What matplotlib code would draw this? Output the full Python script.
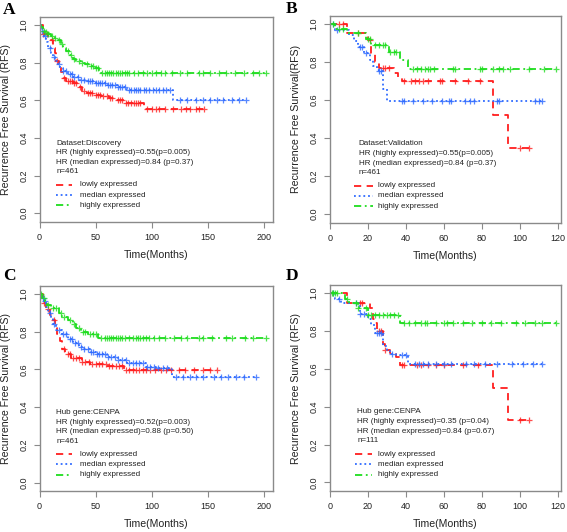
import numpy as np
import matplotlib
matplotlib.use('Agg')
import matplotlib.pyplot as plt

plt.rcParams['font.family'] = ['Liberation Sans', 'DejaVu Sans']

# ---------------- panel A (Discovery) ----------------
a_low_t = [3, 8, 12, 14, 15, 17, 19, 21, 24, 30, 35, 38, 42, 48, 55, 62, 68, 75, 93]
a_low_s = [0.95, 0.92, 0.88, 0.85, 0.81, 0.78, 0.75, 0.72, 0.70, 0.69, 0.67, 0.65, 0.64, 0.63, 0.62, 0.61, 0.60, 0.585, 0.553]
a_low_c = [3, 7, 11, 16, 22, 25, 27, 29, 31, 33, 36, 40, 43, 45, 47, 50, 52, 54, 57, 60, 63, 65, 70, 72, 74,
           77, 79, 82, 84, 86, 88, 90, 96, 100, 104, 107, 112, 119, 126, 131, 134, 140, 142, 147]
a_med_t = [2, 4, 6, 8, 10, 12, 14, 16, 18, 21, 25, 30, 35, 42, 50, 60, 70, 78, 119]
a_med_s = [0.97, 0.94, 0.91, 0.88, 0.85, 0.83, 0.81, 0.79, 0.77, 0.755, 0.74, 0.725, 0.71, 0.70, 0.69, 0.68, 0.67, 0.657, 0.60]
a_med_c = [2, 5, 9, 13, 17, 21, 24, 27, 29, 31, 34, 37, 40, 43, 45, 47, 50, 52, 54, 56, 58, 61, 63, 65, 67, 70,
           72, 74, 76, 80, 82, 84, 86, 88, 90, 93, 95, 98, 101, 104, 107, 110, 113, 116, 125, 132, 140, 146,
           152, 158, 164, 172, 178, 184]
a_hi_t = [1, 3, 5, 7, 10, 13, 16, 19, 21, 24, 27, 30, 33, 37, 41, 45, 49, 53]
a_hi_s = [0.99, 0.97, 0.96, 0.95, 0.94, 0.93, 0.92, 0.90, 0.88, 0.86, 0.84, 0.82, 0.81, 0.80, 0.79, 0.78, 0.77, 0.742]
a_hi_c = [4, 6, 8, 11, 14, 17, 20, 25, 28, 31, 35, 38, 42, 46, 48, 50, 52, 56, 58, 60, 62, 64, 66, 68, 70, 72,
          74, 76, 78, 80, 84, 88, 92, 96, 100, 104, 108, 112, 118, 125, 132, 142, 146, 152, 160, 166, 174,
          182, 190, 196, 202]

# ---------------- panel B (Validation) ----------------
b_low_t = [9, 20, 22, 24, 26, 34, 36, 38, 86, 94]
b_low_s = [0.95, 0.915, 0.85, 0.80, 0.77, 0.74, 0.72, 0.70, 0.52, 0.35]
b_low_c = [5, 7, 15, 21, 28, 29, 31, 39, 43, 45, 47, 49, 52, 58, 59, 66, 73, 79, 100, 105]
b_med_t = [3, 10, 13, 15, 18, 21, 23, 25, 26, 28, 30]
b_med_s = [0.97, 0.94, 0.91, 0.88, 0.85, 0.81, 0.78, 0.76, 0.755, 0.66, 0.595]
b_med_c = [2, 4, 16, 17, 19, 26, 27, 38, 39, 44, 49, 54, 59, 63, 64, 71, 74, 76, 88, 89, 108, 110, 112]
b_hi_t = [3, 9, 19, 22, 31, 37, 41]
b_hi_s = [0.975, 0.95, 0.92, 0.89, 0.855, 0.81, 0.765]
b_hi_c = [2, 5, 7, 15, 20, 21, 24, 26, 28, 29, 32, 34, 35, 44, 46, 48, 50, 52, 53, 55, 65, 66, 79, 80,
          86, 89, 91, 95, 105, 113, 119]

# ---------------- panel C (Hub gene, discovery) ----------------
c_low_t = [3, 6, 9, 12, 14, 16, 18, 20, 23, 28, 38, 45, 60, 75]
c_low_s = [0.95, 0.92, 0.89, 0.86, 0.82, 0.79, 0.75, 0.71, 0.68, 0.66, 0.64, 0.63, 0.62, 0.595]
c_low_c = [4, 8, 13, 22, 25, 27, 30, 33, 35, 38, 41, 44, 47, 50, 53, 56, 59, 62, 65, 68, 71, 74, 77, 80,
           83, 86, 89, 92, 95, 99, 103, 108, 113, 117, 124, 130, 138, 146, 152, 158]
c_med_t = [2, 4, 6, 8, 10, 12, 15, 20, 25, 30, 35, 40, 45, 50, 60, 70, 78, 95, 105, 118]
c_med_s = [0.98, 0.96, 0.93, 0.90, 0.87, 0.84, 0.81, 0.79, 0.76, 0.74, 0.72, 0.71, 0.69, 0.68, 0.665,
           0.65, 0.635, 0.615, 0.605, 0.56]
c_med_c = [3, 5, 9, 13, 17, 21, 24, 27, 29, 32, 34, 37, 40, 43, 46, 48, 51, 53, 56, 58, 61, 64, 67, 70,
           74, 77, 80, 83, 86, 89, 92, 96, 99, 102, 106, 110, 114, 122, 128, 134, 140, 146, 156, 162, 168,
           175, 182, 193]
c_hi_t = [2, 5, 7, 10, 17, 20, 25, 30, 33, 37, 43, 52]
c_hi_s = [0.98, 0.96, 0.94, 0.925, 0.90, 0.88, 0.86, 0.84, 0.82, 0.80, 0.79, 0.765]
c_hi_c = [1, 4, 8, 12, 15, 19, 22, 27, 31, 35, 39, 41, 45, 48, 50, 55, 58, 60, 62, 64, 66, 68, 70, 72, 74,
          76, 80, 83, 86, 88, 90, 92, 95, 98, 102, 107, 112, 120, 126, 132, 142, 146, 154, 166, 172, 183,
          190, 202]

# ---------------- panel D (Hub gene, validation) ----------------
d_low_t = [9, 21, 23, 24, 25, 28, 29, 32, 35, 37, 86, 94]
d_low_s = [0.945, 0.92, 0.86, 0.84, 0.80, 0.73, 0.70, 0.684, 0.66, 0.62, 0.50, 0.33]
d_low_c = [16, 17, 26, 27, 29, 38, 39, 46, 48, 52, 56, 60, 70, 78, 100, 105]
d_med_t = [3, 6, 16, 20, 22, 24, 28, 30, 32, 35, 41]
d_med_s = [0.97, 0.945, 0.89, 0.86, 0.83, 0.79, 0.72, 0.70, 0.68, 0.672, 0.627]
d_med_c = [2, 5, 14, 16, 18, 25, 26, 27, 33, 38, 40, 45, 47, 49, 52, 56, 60, 64, 72, 76, 82, 88, 96, 102,
           107, 112]
d_hi_t = [8, 10, 15, 20, 37]
d_hi_s = [0.97, 0.945, 0.92, 0.886, 0.84]
d_hi_c = [1, 2, 3, 4, 9, 14, 15, 19, 20, 22, 24, 26, 28, 30, 32, 34, 36, 39, 42, 45, 48, 50, 51, 56, 60,
          62, 65, 70, 75, 80, 85, 90, 98, 103, 108, 112, 119]

series_labels = ['lowly expressed', 'median expressed', 'highly expressed']

a_text = ['Dataset:Discovery', 'HR (highly expressed)=0.55(p=0.005)',
          'HR (median expressed)=0.84 (p=0.37)', 'n=461']
b_text = ['Dataset:Validation', 'HR (highly expressed)=0.55(p=0.005)',
          'HR (median expressed)=0.84 (p=0.37)', 'n=461']
c_text = ['Hub gene:CENPA', 'HR (highly expressed)=0.52(p=0.003)',
          'HR (median expressed)=0.88 (p=0.50)', 'n=461']
d_text = ['Hub gene:CENPA', 'HR (highly expressed)=0.35 (p=0.04)',
          'HR (median expressed)=0.84 (p=0.67)', 'n=111']

colors = ['#ff1f1f', '#2f6bff', '#1fdd1f']
dashes = [(4, 3), (1, 1.6), (4, 2, 1, 2)]

W, H = 567, 532
fig = plt.figure(figsize=(W / 100, H / 100), dpi=100)


def add_ax(l, t, r, b):
    return fig.add_axes([l / W, 1 - b / H, (r - l) / W, (b - t) / H])


def km_panel(ax, curves, xmax, xticks, text, ylabel, tx, lx):
    for (times, surv, cens), col, ds in zip(curves, colors, dashes):
        t = np.array([0] + times, dtype=float)
        s = np.array([1.0] + surv)
        tend = max(max(cens), t[-1])
        ax.step(np.append(t, tend), np.append(s, s[-1]), where='post',
                color=col, lw=1.3, dashes=ds)
        c = np.array(cens, dtype=float)
        cy = s[np.searchsorted(t, c, side='right') - 1]
        ax.plot(c, cy, '+', color=col, ms=5, mew=0.9, alpha=0.8)
    ax.set_xlim(0, xmax)
    ax.set_ylim(-0.045, 1.042)
    ax.set_xticks(xticks)
    ax.set_yticks([0, 0.2, 0.4, 0.6, 0.8, 1.0])
    ax.set_yticklabels(['0.0', '0.2', '0.4', '0.6', '0.8', '1.0'], rotation=90, va='center')
    for sp in ax.spines.values():
        sp.set_color('#8a8a8a')
        sp.set_linewidth(1.0)
    ax.tick_params(colors='#8a8a8a', labelcolor='#222222', labelsize=6.5, length=4, width=0.8, pad=4)
    ax.set_xlabel('Time(Months)', fontsize=7.6, color='#222222', labelpad=6)
    ax.set_ylabel(ylabel, fontsize=7.6, color='#222222', labelpad=6)
    ty = [0.372, 0.32, 0.268, 0.22]
    for line, y in zip(text, ty):
        ax.text(tx, y, line, fontsize=5.8, color='#222222', va='center')
    ly = [0.15, 0.096, 0.042]
    for lab, col, ds, y in zip(series_labels, colors, dashes, ly):
        ax.plot([lx[0], lx[1]], [y, y], color=col, lw=1.3, dashes=ds)
        ax.text(lx[2], y, lab, fontsize=5.8, color='#222222', va='center')


def letter(x, y, s):
    fig.text(x / W, 1 - y / H, s, fontsize=12.5, fontweight='bold', family='Liberation Serif',
             va='top', ha='left')


ax = add_ax(39.5, 17, 272.7, 221.7)
km_panel(ax, [(a_low_t, a_low_s, a_low_c), (a_med_t, a_med_s, a_med_c), (a_hi_t, a_hi_s, a_hi_c)],
         208, [0, 50, 100, 150, 200], a_text, 'Recurrence Free Survival (RFS)', 15, (15, 28.6, 35.7))
letter(3, 2, 'A')

ax = add_ax(329.7, 16, 561.3, 222.7)
km_panel(ax, [(b_low_t, b_low_s, b_low_c), (b_med_t, b_med_s, b_med_c), (b_hi_t, b_hi_s, b_hi_c)],
         121.9, [0, 20, 40, 60, 80, 100, 120], b_text, 'Recurrence Free Survival(RFS)', 15.3,
         (13, 22.6, 25.3))
letter(286, 1, 'B')

ax = add_ax(39.5, 286, 272.7, 491)
km_panel(ax, [(c_low_t, c_low_s, c_low_c), (c_med_t, c_med_s, c_med_c), (c_hi_t, c_hi_s, c_hi_c)],
         208, [0, 50, 100, 150, 200], c_text, 'Recurrence Free Survival (RFS)', 15, (15, 28.6, 35.7))
letter(3, 268, 'C')

ax = add_ax(329.7, 285, 561.3, 491)
km_panel(ax, [(d_low_t, d_low_s, d_low_c), (d_med_t, d_med_s, d_med_c), (d_hi_t, d_hi_s, d_hi_c)],
         121.9, [0, 20, 40, 60, 80, 100, 120], d_text, 'Recurrence Free Survival (RFS)', 14.4,
         (13.2, 22.5, 25.5))
letter(286, 268, 'D')

fig.savefig('out.png', dpi=100)
